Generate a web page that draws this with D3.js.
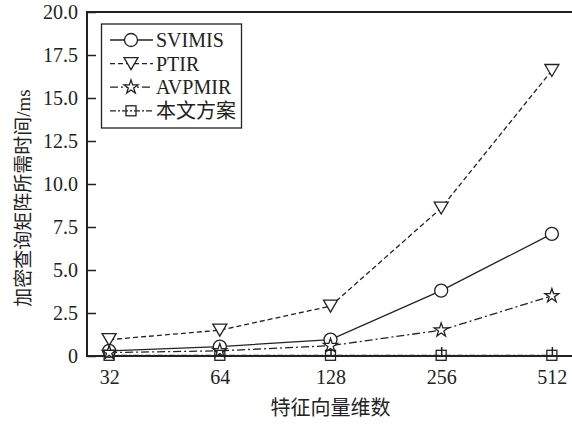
<!DOCTYPE html>
<html>
<head>
<meta charset="utf-8">
<script src="https://cdn.jsdelivr.net/npm/d3@7"></script>
<style>
  body { margin: 0; background: #fff; }
  text { font-family: "Liberation Serif", "Noto Sans CJK SC", serif; fill: #222; }
</style>
</head>
<body>
<div id="chart"></div>
<script>
// data
const dims = ['32', '64', '128', '256', '512'];
const svimis = [0.3, 0.55, 0.95, 3.8, 7.1];
const ptir = [0.95, 1.5, 2.9, 8.6, 16.6];
const avpmir = [0.2, 0.3, 0.6, 1.5, 3.5];
const scheme = [0.04, 0.04, 0.04, 0.04, 0.04];
const yTicks = [0, 2.5, 5, 7.5, 10, 12.5, 15, 17.5, 20];

const series = [
  { name: 'SVIMIS', values: svimis, dash: null, symbol: 'circle' },
  { name: 'PTIR', values: ptir, dash: '5,3', symbol: 'triangle' },
  { name: 'AVPMIR', values: avpmir, dash: '8,3,2,3', symbol: 'star' },
  { name: '本文方案', values: scheme, dash: '6,2,2,2', symbol: 'square' }
];

const width = 572, height = 426;
const mLeft = 87, mRight = 574, mTop = 12, mBottom = 356;
const ink = '#222';

const svg = d3.select('#chart').append('svg')
  .attr('width', width)
  .attr('height', height);

const x = d3.scalePoint().domain(dims).range([mLeft, mRight]).padding(0.2);
const y = d3.scaleLinear().domain([0, 20]).range([mBottom, mTop]);

// axes, ticks pointing inward
svg.append('g')
  .attr('transform', `translate(0,${mBottom})`)
  .call(d3.axisBottom(x).tickSize(-9).tickPadding(14))
  .call(g => g.select('.domain').remove())
  .call(g => g.selectAll('line').attr('stroke', ink).attr('stroke-width', 1.5))
  .call(g => g.selectAll('text').attr('font-size', 20).attr('font-family', 'Liberation Serif').attr('fill', ink));

svg.append('g')
  .attr('transform', `translate(${mLeft},0)`)
  .call(d3.axisLeft(y).tickValues(yTicks).tickSize(-9).tickPadding(9)
    .tickFormat(d => d === 0 ? '0' : d3.format('.1f')(d)))
  .call(g => g.select('.domain').remove())
  .call(g => g.selectAll('line').attr('stroke', ink).attr('stroke-width', 1.5))
  .call(g => g.selectAll('text').attr('font-size', 20).attr('font-family', 'Liberation Serif').attr('fill', ink));

// frame
svg.append('rect')
  .attr('x', mLeft).attr('y', mTop)
  .attr('width', mRight - mLeft).attr('height', mBottom - mTop)
  .attr('fill', 'none').attr('stroke', ink).attr('stroke-width', 2);

function marker(sel, type) {
  if (type === 'circle') {
    sel.append('circle').attr('r', 6.5).attr('fill', '#fff');
  } else if (type === 'triangle') {
    sel.append('path').attr('d', 'M-7,-6L7,-6L0,6Z').attr('fill', '#fff');
  } else if (type === 'star') {
    sel.append('path').attr('d', d3.symbol(d3.symbolStar, 60)()).attr('fill', '#fff');
  } else {
    sel.append('rect').attr('x', -5).attr('y', -5).attr('width', 10).attr('height', 10).attr('fill', 'none');
  }
  sel.selectAll('*').attr('stroke', ink).attr('stroke-width', 1.3);
}

const line = d3.line().x((d, i) => x(dims[i])).y(d => y(d));

series.forEach(s => {
  svg.append('path')
    .datum(s.values)
    .attr('d', line)
    .attr('fill', 'none')
    .attr('stroke', ink)
    .attr('stroke-width', 1.3)
    .attr('stroke-dasharray', s.dash);
});

series.forEach(s => {
  svg.append('g').selectAll('g')
    .data(s.values)
    .join('g')
    .attr('transform', (d, i) => `translate(${x(dims[i])},${y(d)})`)
    .each(function () { marker(d3.select(this), s.symbol); });
});

// legend
const legend = svg.append('g');
legend.append('rect')
  .attr('x', 101.5).attr('y', 24)
  .attr('width', 140).attr('height', 104)
  .attr('fill', '#fff').attr('stroke', ink).attr('stroke-width', 1.3);

series.forEach((s, i) => {
  const ly = 40 + i * 23.6;
  legend.append('line')
    .attr('x1', 110).attr('x2', 153).attr('y1', ly).attr('y2', ly)
    .attr('stroke', ink).attr('stroke-width', 1.3)
    .attr('stroke-dasharray', s.dash);
  const g = legend.append('g').attr('transform', `translate(131,${ly})`);
  marker(g, s.symbol);
  legend.append('text')
    .attr('x', 156).attr('y', ly + 7)
    .attr('font-size', 20)
    .text(s.name);
});

// axis titles
svg.append('text')
  .attr('x', (mLeft + mRight) / 2).attr('y', 415)
  .attr('text-anchor', 'middle')
  .attr('font-size', 20)
  .text('特征向量维数');

const yTitle = svg.append('text')
  .attr('transform', 'translate(30,198) rotate(-90)')
  .attr('text-anchor', 'middle')
  .attr('font-size', 19);
yTitle.append('tspan').text('加密查询矩阵所需时间');
yTitle.append('tspan').attr('font-family', 'Liberation Serif').text('/ms');
</script>
</body>
</html>
